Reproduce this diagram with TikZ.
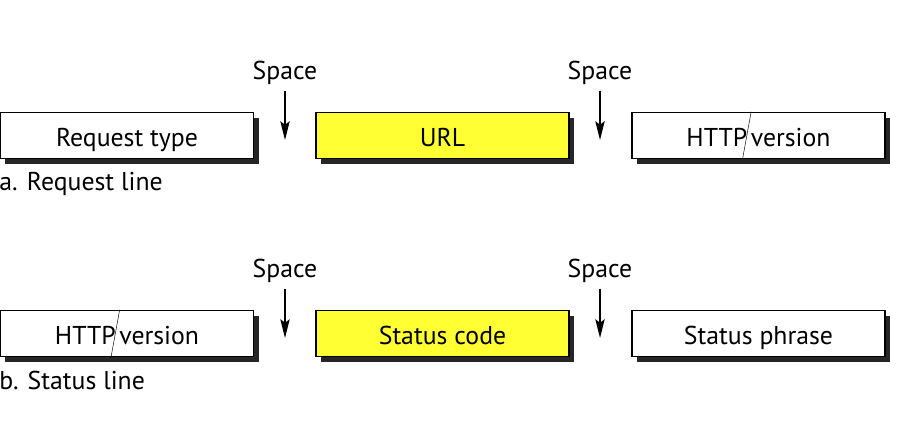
\documentclass[tikz,border=0pt]{standalone}
\usepackage{fontspec}
\setmainfont{PT Sans}
\usetikzlibrary{arrows.meta,shadows}
\definecolor{urlyellow}{RGB}{255,255,51}
\begin{document}
\begin{tikzpicture}[x=0.03cm,y=-0.03cm,
		font=\fontsize{22}{26}\selectfont]
	\useasboundingbox (0,0) rectangle (902,438);
	\begin{scope}[every node/.style={draw,line width=1.3pt,fill=white,
			minimum width=7.6cm,minimum height=1.38cm,inner sep=0pt,
			text height=18.5pt,text depth=0pt,
			drop shadow={shadow xshift=0.15cm,shadow yshift=-0.15cm,
				fill=black!85,opacity=1}}]
		\node (reqtype) at (127,135.5) {Request type};
		\node[fill=urlyellow] (url) at (442.5,135.5) {URL};
		\node (ver1) at (758.5,135.5) {HTTP\hspace{3pt}version};
		\node (ver2) at (127,333.5) {HTTP\hspace{3pt}version};
		\node[fill=urlyellow] (code) at (442.5,333.5) {Status code};
		\node (phrase) at (758.5,333.5) {Status phrase};
	\end{scope}
	% slashes in HTTP/version
	\draw[thin] ([xshift=-0.22cm]ver1.north) -- ([xshift=-0.48cm]ver1.south);
	\draw[thin] ([xshift=-0.22cm]ver2.north) -- ([xshift=-0.48cm]ver2.south);
	\begin{scope}[every node/.style={inner sep=1pt}]
		\node (sp1) at (285,73) {Space};
		\node (sp2) at (600,73) {Space};
		\node (sp3) at (285,271) {Space};
		\node (sp4) at (600,271) {Space};
		\node[anchor=west] (capa) at (-2,184) {a. Request line};
		\node[anchor=west] (capb) at (-2,380) {b. Status line};
	\end{scope}
	\coordinate (t1) at (285,140);
	\coordinate (t2) at (600,140);
	\coordinate (t3) at (285,338);
	\coordinate (t4) at (600,338);
	\begin{scope}[>={Stealth[length=16pt,width=8pt,inset=3pt]},
		every path/.style={line width=1.3pt,shorten <=4pt}]
		\draw [->] (sp1) -- (t1);
		\draw [->] (sp2) -- (t2);
		\draw [->] (sp3) -- (t3);
		\draw [->] (sp4) -- (t4);
	\end{scope}
\end{tikzpicture}
\end{document}
